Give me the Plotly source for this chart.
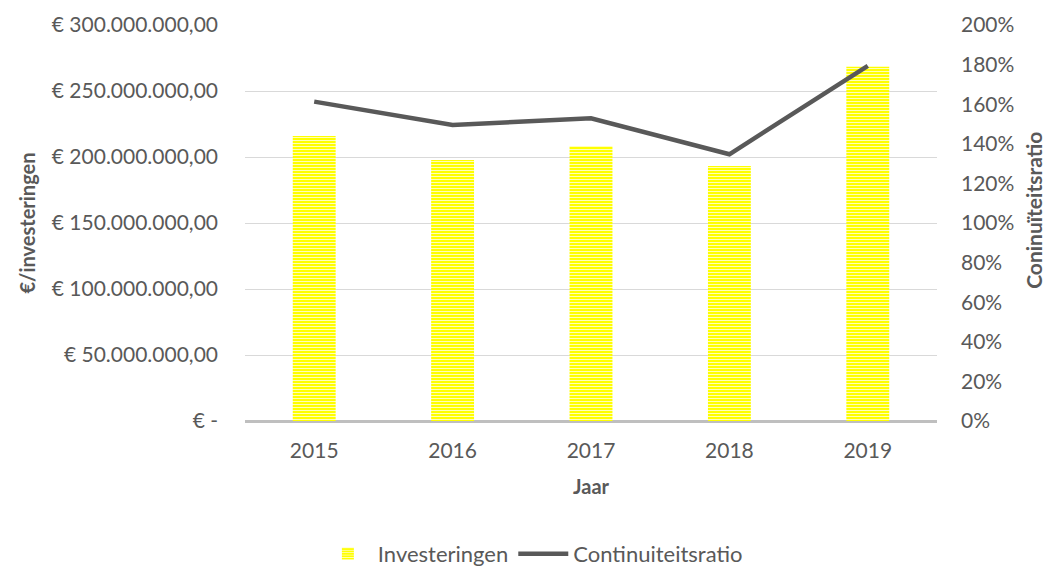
import plotly.graph_objects as go

years = ["2015", "2016", "2017", "2018", "2019"]
investeringen = [216_000_000, 197_700_000, 208_300_000, 193_200_000, 268_400_000]
continuiteitsratio = [1.613, 1.495, 1.529, 1.347, 1.794]

left_tickvals = [0, 50_000_000, 100_000_000, 150_000_000, 200_000_000, 250_000_000, 300_000_000]
left_ticktext = ["€ -", "€ 50.000.000,00", "€ 100.000.000,00", "€ 150.000.000,00",
                 "€ 200.000.000,00", "€ 250.000.000,00", "€ 300.000.000,00"]

FONT = "Lato"
GRAY = "#595959"

fig = go.Figure()
fig.add_trace(go.Bar(
    x=years, y=investeringen, name="Investeringen",
    marker=dict(color="#FFFF00", line=dict(width=0),
                pattern=dict(shape="-", fgcolor="#FFFFB8", bgcolor="#FFFF00",
                             size=3, solidity=0.35, fillmode="replace")),
    width=0.31, yaxis="y",
))
fig.add_trace(go.Scatter(
    x=years, y=continuiteitsratio, name="Continuiteitsratio", mode="lines",
    line=dict(color=GRAY, width=4.5), yaxis="y2",
))

fig.update_layout(
    width=1047, height=590,
    margin=dict(l=245, r=110, t=25, b=169),
    paper_bgcolor="white", plot_bgcolor="white",
    font=dict(family=FONT, color=GRAY, size=21),
    xaxis=dict(
        type="category", showgrid=False, ticks="", showline=False, zeroline=False,
        tickfont=dict(size=21), ticklabelstandoff=15, automargin=False,
        title=dict(text="<b>Jaar</b>", font=dict(size=20), standoff=18),
    ),
    yaxis=dict(
        range=[0, 300_000_000], tickvals=left_tickvals, ticktext=left_ticktext,
        showgrid=True, gridcolor="#D9D9D9", gridwidth=1,
        zeroline=True, zerolinecolor="#BFBFBF", zerolinewidth=3,
        ticks="", tickfont=dict(size=21), ticklabelstandoff=26, automargin=False,
        title=dict(text="<b>€/investeringen</b>", font=dict(size=20), standoff=10),
    ),
    yaxis2=dict(
        range=[0, 2.0], dtick=0.2, tickformat=".0%", overlaying="y", side="right",
        showgrid=False, zeroline=False, ticks="", tickfont=dict(size=21),
        ticklabelstandoff=23, automargin=False,
    ),
    annotations=[dict(
        text="<b>Coninuïteitsratio</b>", textangle=-90, showarrow=False,
        xref="paper", yref="paper", x=1.140, y=0.533, xanchor="center", yanchor="middle",
        font=dict(size=21, color=GRAY, family=FONT),
    )],
    legend=dict(orientation="h", x=0.416, xanchor="center", y=-0.336, yanchor="middle",
                font=dict(size=22), traceorder="normal", itemwidth=50),
    showlegend=True,
)

fig.write_html(
    "out.html",
    config={"displayModeBar": False},
    post_script="document.documentElement.style.overflow='hidden';"
                "document.body.style.margin='0';document.body.style.overflow='hidden';",
)
